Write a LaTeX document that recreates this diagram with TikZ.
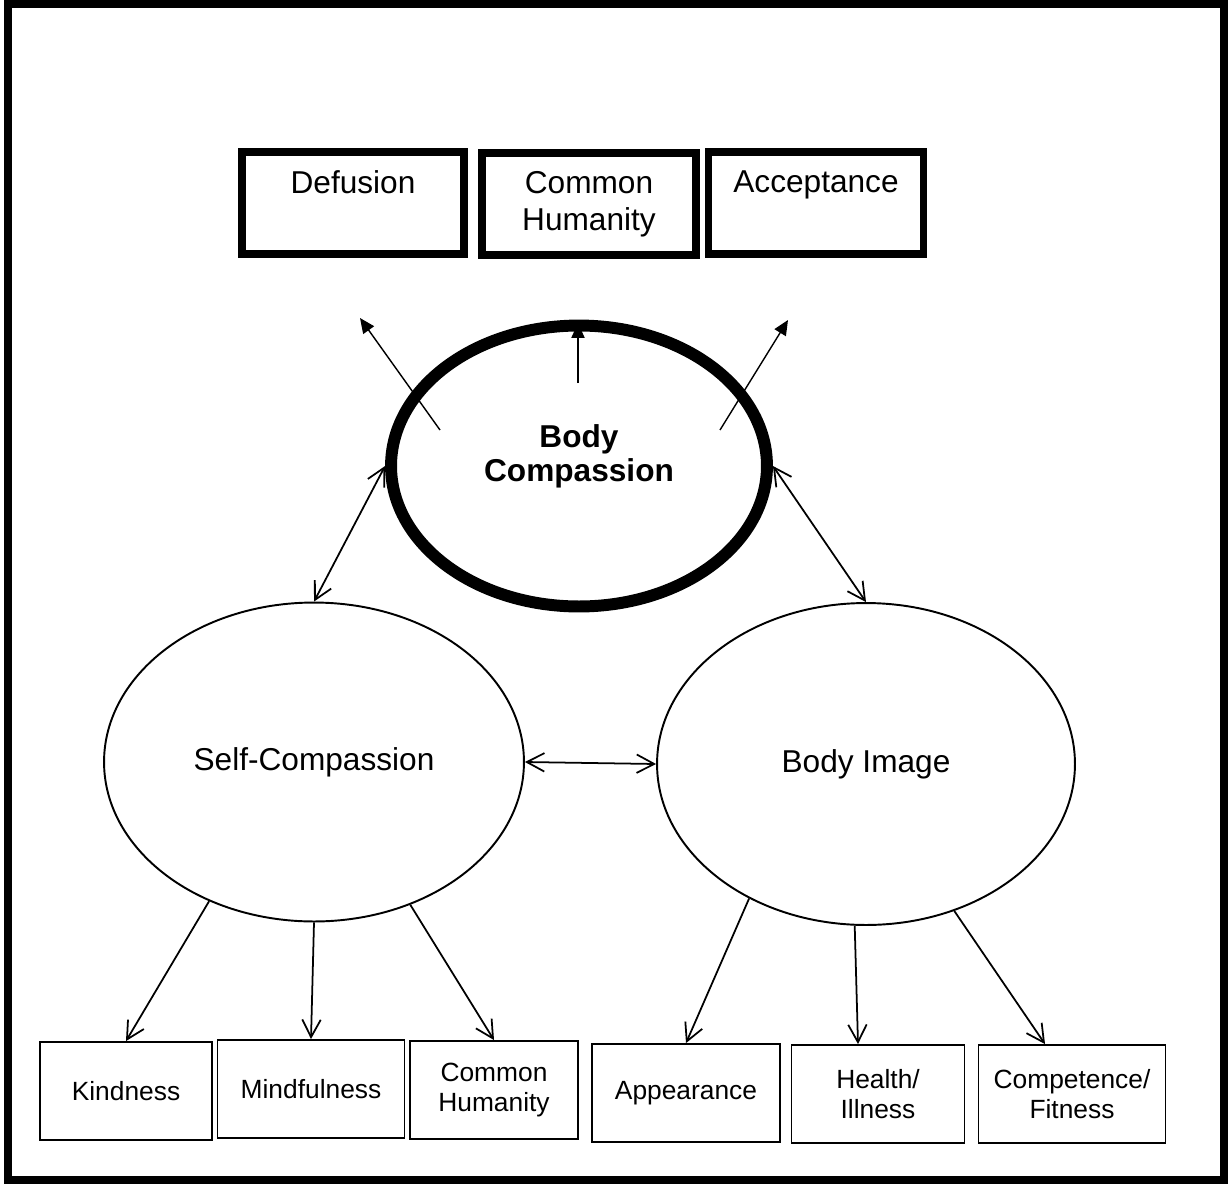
\documentclass[tikz,border=0pt]{standalone}
\usepackage{fontspec}
\setmainfont{Liberation Sans}
\usetikzlibrary{arrows.meta,shapes.geometric}

\begin{document}
\begin{tikzpicture}[x=0.02cm,y=-0.02cm,
		bigfont/.style={font=\fontsize{18}{21}\selectfont},
		smallfont/.style={font=\fontsize{15}{17.5}\selectfont},
		latent/.style={draw,ellipse,line width=1.1pt,inner sep=0pt,bigfont},
		core/.style={draw,ellipse,line width=6.8pt,inner sep=0pt},
		corelabel/.style={inner sep=0pt,yshift=0.2cm,align=center,font=\fontsize{18}{19.5}\selectfont\bfseries},
		topbox/.style={draw,line width=4.5pt,minimum height=2.04cm},
		toplabel/.style={anchor=north,inner sep=0pt,yshift=-0.44cm,align=center,bigfont},
		itembox/.style={draw,line width=1.1pt,minimum height=1.96cm,align=center,smallfont},
		twoway/.style={{Straight Barb[length=10pt,width=10.5pt]}-{Straight Barb[length=10pt,width=10.5pt]},line width=1pt},
		oneway/.style={-{Straight Barb[length=10pt,width=10.5pt]},line width=1pt},
		outarrow/.style={-{Triangle[length=8.5pt,width=7.5pt]},line width=0.8pt}]
			%%%%% START %%%%%
			\useasboundingbox (0,0) rectangle (1230,1183);
			\draw[line width=4.5pt] (8,4) rectangle (1224,1180);
			
			% top boxes
			\node[topbox,minimum width=4.44cm,label={[toplabel]north:Defusion}] (defu) at (353,203) {};
			\node[topbox,minimum width=4.28cm,label={[toplabel]north:Common\\Humanity}] (chtop) at (589,204) {};
			\node[topbox,minimum width=4.3cm,label={[toplabel]north:Acceptance}] (acce) at (816,203) {};
			
			% latent variables
			\node[core,minimum width=7.52cm,minimum height=5.62cm,label={[corelabel]center:Body\\Compassion}] (bc) at (579,466) {};
			\node[latent,minimum width=8.4cm,minimum height=6.38cm] (sc) at (314,762) {Self-Compassion};
			\node[latent,minimum width=8.36cm,minimum height=6.44cm] (bi) at (866,764) {Body Image};
			
			% indicators
			\node[itembox,minimum width=3.44cm] (kind) at (126,1091) {Kindness};
			\node[itembox,minimum width=3.74cm] (mind) at (311,1089) {Mindfulness};
			\node[itembox,minimum width=3.36cm] (chbot) at (494,1090) {Common\\Humanity};
			\node[itembox,minimum width=3.76cm] (appe) at (686,1093) {Appearance};
			\node[itembox,minimum width=3.46cm] (hlth) at (878,1094) {Health/\\Illness};
			\node[itembox,minimum width=3.74cm] (comp) at (1072,1094) {Competence/\\Fitness};
			
			% arrows out of body compassion
			\coordinate (ltail) at (440,430);
			\coordinate (ltip) at (360,318);
			\coordinate (mtail) at (578,383);
			\coordinate (mtip) at (578,323);
			\coordinate (rtail) at (720,430);
			\coordinate (rtip) at (788,320);
			\draw[outarrow] (ltail) -- (ltip);
			\draw[outarrow] (mtail) -- (mtip);
			\draw[outarrow] (rtail) -- (rtip);
			
			\draw[twoway] (bc.west) -- (sc.north);
			\draw[twoway] (bc.east) -- (bi.north);
			\draw[twoway] (sc.east) -- (bi.west);
			
			\draw[oneway] (sc.233) -- (kind.north);
			\draw[oneway] (sc.south) -- (mind.north);
			\draw[oneway] (sc.304) -- (chbot.north);
			\draw[oneway] (bi.229) -- (appe.north);
			\draw[oneway] (bi.266) -- ([xshift=-0.4cm]hlth.north);
			\draw[oneway] (bi.301) -- ([xshift=-0.54cm]comp.north);
			%%%%% END %%%%%
		\end{tikzpicture}
\end{document}
